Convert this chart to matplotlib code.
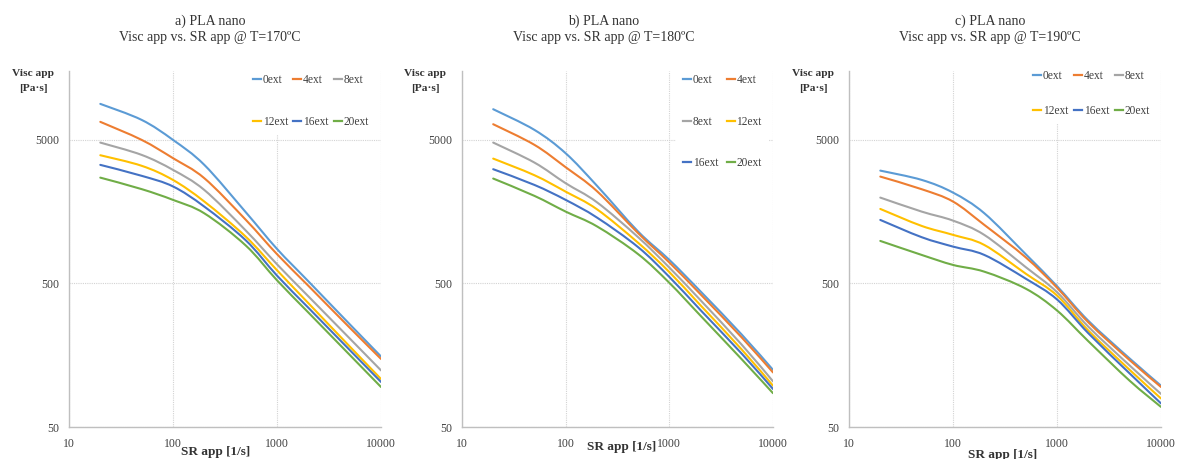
import numpy as np
import matplotlib
matplotlib.use("Agg")
import matplotlib.pyplot as plt
from matplotlib.path import Path
from matplotlib.patches import PathPatch
from matplotlib.lines import Line2D
from matplotlib.ticker import FixedLocator, FixedFormatter, NullLocator

plt.rcParams['font.family'] = ['Liberation Serif', 'DejaVu Serif']

# Apparent shear rate [1/s]
shear_rate = [20, 50, 100, 200, 500, 1000, 2000, 5000, 10000]

series_labels = ["0ext", "4ext", "8ext", "12ext", "16ext", "20ext"]
series_colors = ["#5B9BD5", "#ED7D31", "#A5A5A5", "#FFC000", "#4472C4", "#70AD47"]

# Apparent viscosity [Pa·s] at 170 ºC
visc_170 = {
    "0ext":  [8910, 6890, 5000, 3350, 1570, 870, 518, 260, 155],
    "4ext":  [6680, 5000, 3730, 2705, 1390, 800, 482, 246, 149],
    "8ext":  [4790, 3930, 3090, 2240, 1170, 680, 407, 207, 124],
    "12ext": [3910, 3300, 2630, 1860, 1060, 618, 365, 182, 108],
    "16ext": [3350, 2810, 2370, 1715, 1000, 567, 339, 172, 103],
    "20ext": [2730, 2270, 1910, 1540, 920, 526, 314, 159, 95],
}

# Apparent viscosity [Pa·s] at 180 ºC
visc_180 = {
    "0ext":  [8180, 5870, 4035, 2400, 1150, 730, 440, 220, 125],
    "4ext":  [6430, 4617, 3225, 2200, 1120, 700, 420, 210, 120],
    "8ext":  [4790, 3475, 2495, 1840, 1050, 645, 382, 187, 104],
    "12ext": [3705, 2837, 2180, 1645, 960, 600, 352, 173, 97],
    "16ext": [3125, 2428, 1910, 1440, 895, 555, 326, 162, 92],
    "20ext": [2690, 2037, 1583, 1250, 800, 505, 298, 148, 86],
}

# Apparent viscosity [Pa·s] at 190 ºC
visc_190 = {
    "0ext":  [3055, 2632, 2147, 1542, 800, 479, 275, 150, 97],
    "4ext":  [2776, 2267, 1860, 1279, 760, 467, 268, 146, 95],
    "8ext":  [1982, 1583, 1370, 1089, 650, 435, 250, 134, 85],
    "12ext": [1652, 1258, 1090, 927, 585, 412, 235, 125, 79],
    "16ext": [1385, 1050, 903, 790, 540, 387, 225, 118, 73],
    "20ext": [989, 790, 673, 604, 460, 324, 198, 105, 69],
}

titles = ["a) PLA nano\nVisc app vs. SR app @ T=170ºC",
          "b) PLA nano\nVisc app vs. SR app @ T=180ºC",
          "c) PLA nano\nVisc app vs. SR app @ T=190ºC"]

x_ticks = [10, 100, 1000, 10000]
x_ticklabels = ["10", "100", "1000", "10000"]
y_ticks = [50, 500, 5000]
y_ticklabels = ["50", "500", "5000"]

W, H = 1180, 459


def smooth_path(xs, ys):
    """Smoothed (Catmull-Rom style Bezier) path through the points, built in log space."""
    pts = np.column_stack([np.log10(xs), np.log10(ys)])
    n = len(pts)
    verts = [pts[0]]
    codes = [Path.MOVETO]
    for i in range(n - 1):
        p0 = pts[i - 1] if i > 0 else pts[i]
        p1 = pts[i]
        p2 = pts[i + 1]
        p3 = pts[i + 2] if i + 2 < n else pts[i + 1]
        c1 = p1 + (p2 - p0) / 6.0
        c2 = p2 - (p3 - p1) / 6.0
        verts += [c1, c2, p2]
        codes += [Path.CURVE4] * 3
    return Path(10 ** np.array(verts), codes)


fig = plt.figure(figsize=(W / 100, H / 100), dpi=100)

# axes placement in pixels: left, right
ax_px = [(69, 381), (462, 773), (849, 1161)]
top_px, bot_px = 71, 427

# legend layout per panel: (ncol, order, left px, top px, labelspacing, columnspacing)
legend_cfg = [
    (3, [0, 3, 1, 4, 2, 5], 246, 67, 2.58, 0.45),
    (2, [0, 2, 4, 1, 3, 5], 676, 67, 2.58, 0.72),
    (3, [0, 3, 1, 4, 2, 5], 1026, 63, 1.98, 0.5),
]
title_cx = [210, 604, 990]
xlabel_pos = [(216, 452), (622, 447), (1003, 455)]
ylabel_cx = [33, 425, 813]

datasets = [visc_170, visc_180, visc_190]

for k, data in enumerate(datasets):
    l, r = ax_px[k]
    ax = fig.add_axes([l / W, 1 - bot_px / H, (r - l) / W, (bot_px - top_px) / H])
    ax.set_xscale("log")
    ax.set_yscale("log")
    ax.set_xlim(10, 10000)
    ax.set_ylim(50, 15100)

    for name, col in zip(series_labels, series_colors):
        patch = PathPatch(smooth_path(shear_rate, data[name]), transform=ax.transData,
                          fill=False, edgecolor=col, lw=1.5, capstyle='round',
                          joinstyle='round', zorder=3)
        ax.add_patch(patch)

    ax.xaxis.set_major_locator(FixedLocator(x_ticks))
    ax.xaxis.set_major_formatter(FixedFormatter(x_ticklabels))
    ax.yaxis.set_major_locator(FixedLocator(y_ticks))
    ax.yaxis.set_major_formatter(FixedFormatter(y_ticklabels))
    ax.xaxis.set_minor_locator(NullLocator())
    ax.yaxis.set_minor_locator(NullLocator())
    ax.tick_params(length=0, labelsize=8.5, colors="#404040", labelcolor="#404040")
    ax.tick_params(axis='x', pad=8)
    ax.tick_params(axis='y', pad=7)

    ax.grid(True, which="major", color="#D3D3D3", lw=0.8, linestyle=(0, (1, 1)))
    ax.set_axisbelow(True)
    for side in ["top", "right"]:
        ax.spines[side].set_visible(False)
    for side in ["left", "bottom"]:
        ax.spines[side].set_color("#BFBFBF")
        ax.spines[side].set_linewidth(1.0)

    ncol, order, lx, ly, lsp, csp = legend_cfg[k]
    handles = [Line2D([], [], color=series_colors[i], lw=1.6) for i in order]
    labels = [series_labels[i] for i in order]
    leg = ax.legend(handles, labels, ncol=ncol, loc="upper left",
                    bbox_to_anchor=(lx / W, 1 - ly / H), bbox_transform=fig.transFigure,
                    frameon=True, fancybox=False, facecolor="white", edgecolor="none",
                    framealpha=1.0, fontsize=8.3, handlelength=0.7, handletextpad=0.15,
                    columnspacing=csp, labelspacing=lsp, borderpad=0.6,
                    borderaxespad=0)
    for t in leg.get_texts():
        t.set_color("#404040")
    leg.set_zorder(5)

    fig.text(title_cx[k] / W, 1 - 29 / H, titles[k], ha="center", va="center",
             fontsize=10, color="#333333", linespacing=1.3)
    fig.text(ylabel_cx[k] / W, 1 - 81 / H, "Visc app\n[Pa·s]", ha="center", va="center",
             fontsize=8.2, fontweight="bold", color="#333333", linespacing=1.75)
    xl, yl = xlabel_pos[k]
    fig.text(xl / W, 1 - yl / H, "SR app [1/s]", ha="center", va="center",
             fontsize=9.5, fontweight="bold", color="#333333")

fig.savefig("out.png", dpi=100, facecolor="white")
